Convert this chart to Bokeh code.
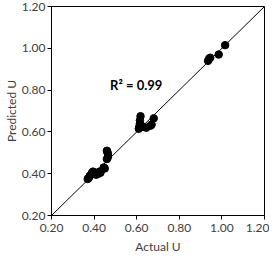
from bokeh.plotting import figure
from bokeh.embed import file_html
from bokeh.resources import INLINE
from bokeh.models import FixedTicker, PrintfTickFormatter, Range1d, Label

actual = [0.370, 0.375, 0.380, 0.390, 0.395, 0.400, 0.410, 0.420, 0.430, 0.425,
          0.445, 0.450, 0.460, 0.465, 0.465, 0.462, 0.460,
          0.610, 0.612, 0.615, 0.615, 0.618, 0.620, 0.630, 0.645, 0.665, 0.670, 0.680,
          0.935, 0.940, 0.945, 0.985, 1.015]
predicted = [0.375, 0.380, 0.390, 0.405, 0.410, 0.400, 0.395, 0.400, 0.405, 0.410,
             0.430, 0.425, 0.470, 0.480, 0.495, 0.505, 0.510,
             0.615, 0.625, 0.640, 0.655, 0.675, 0.630, 0.625, 0.620, 0.630, 0.635, 0.665,
             0.940, 0.950, 0.955, 0.970, 1.015]
line_x = [0.2, 1.2]
line_y = [0.2, 1.2]
ticks = [0.2, 0.4, 0.6, 0.8, 1.0, 1.2]
r2_text = "R² = 0.99"

p = figure(frame_width=213, frame_height=209, output_backend="svg", toolbar_location=None,
           x_range=Range1d(0.2, 1.2), y_range=Range1d(0.2, 1.2),
           min_border_left=40, min_border_right=5, min_border_top=6, min_border_bottom=30)
p.grid.visible = False
p.outline_line_color = "black"
p.outline_line_width = 1

for ax in (p.xaxis, p.yaxis):
    ax.ticker = FixedTicker(ticks=ticks)
    ax.formatter = PrintfTickFormatter(format="%.2f")
    ax.minor_tick_line_color = None
    ax.major_tick_out = 4
    ax.major_tick_in = 0
    ax.axis_line_color = "black"
    ax.major_tick_line_color = "black"
    ax.major_label_text_font = "Lato"
    ax.major_label_text_font_size = "12px"
    ax.major_label_text_color = "#404040"
    ax.axis_label_text_font = "Lato"
    ax.axis_label_text_font_size = "12px"
    ax.axis_label_text_font_style = "normal"
    ax.axis_label_text_color = "#404040"

p.xaxis.axis_label = "Actual U"
p.yaxis.axis_label = "Predicted U"
p.xaxis.major_label_standoff = 4
p.yaxis.major_label_standoff = 2
p.xaxis.axis_label_standoff = 4
p.yaxis.axis_label_standoff = 0

p.line(line_x, line_y, line_color="black", line_width=1)
p.scatter(actual, predicted, size=7.5, fill_color="black", line_color="black")

p.add_layout(Label(x=0.475, y=0.823, text=r2_text, text_font="Lato", text_font_size="13px",
                   text_font_style="bold", text_color="black", text_baseline="middle"))

open("out.html", "w").write(file_html(p, INLINE))
